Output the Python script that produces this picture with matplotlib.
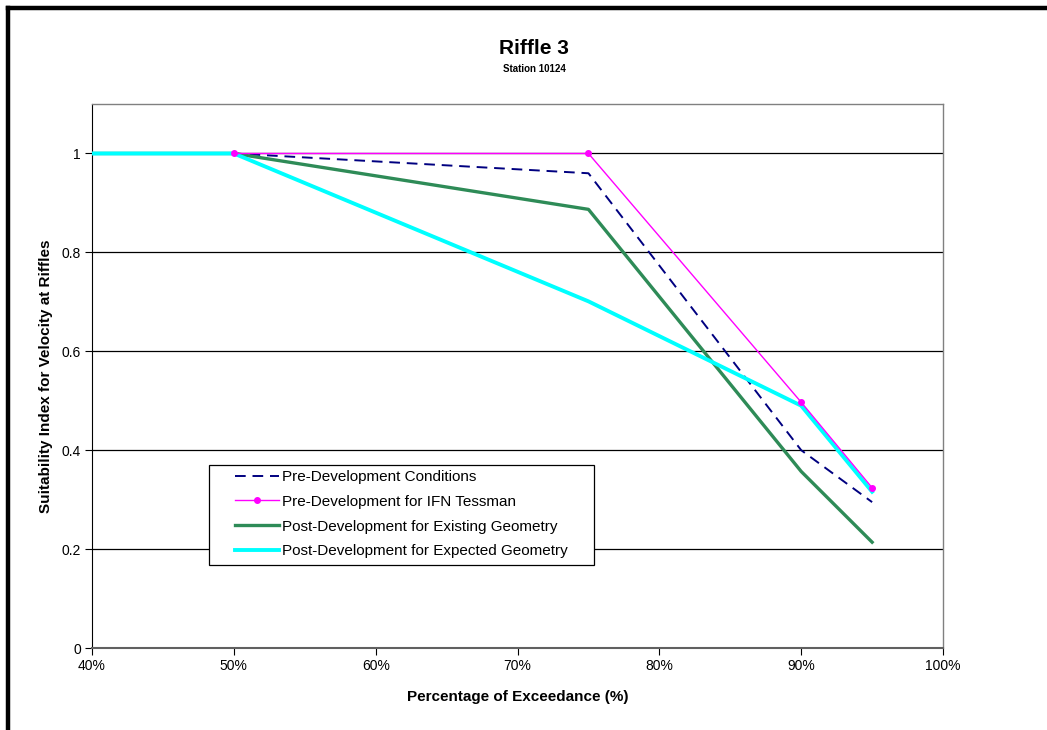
import matplotlib
matplotlib.use("Agg")
import matplotlib.pyplot as plt
from matplotlib.lines import Line2D
from matplotlib.patches import Rectangle
from matplotlib.ticker import FuncFormatter

plt.rcParams["font.family"] = ["Liberation Sans", "DejaVu Sans"]

# percentage of exceedance
x_all = [40, 50, 75, 90, 95]
x_ifn = [50, 75, 90, 95]

pre_dev = [1.0, 1.0, 0.96, 0.40, 0.295]
ifn_tessman = [1.0, 1.0, 0.497, 0.324]
post_existing = [1.0, 1.0, 0.887, 0.357, 0.214]
post_expected = [1.0, 1.0, 0.701, 0.490, 0.316]

fig = plt.figure(figsize=(10.47, 7.3), dpi=100)
ax = fig.add_axes([0.0879, 0.1123, 0.8128, 0.7452])

ax.plot(x_all, pre_dev, color="#000080", lw=1.4, ls=(0, (5.5, 3.5)),
        label="Pre-Development Conditions", zorder=3)
ax.plot(x_ifn, ifn_tessman, color="#FF00FF", lw=1.0, marker="o", ms=4,
        label="Pre-Development for IFN Tessman", zorder=6)
ax.plot(x_all, post_existing, color="#2E8B57", lw=2.4,
        label="Post-Development for Existing Geometry", zorder=4)
ax.plot(x_all, post_expected, color="#00FFFF", lw=2.8,
        label="Post-Development for Expected Geometry", zorder=5)

ax.set_xlim(40, 100)
ax.set_ylim(0, 1.1)
ax.set_xticks(range(40, 101, 10))
ax.set_yticks([0, 0.2, 0.4, 0.6, 0.8, 1.0])
ax.xaxis.set_major_formatter(FuncFormatter(lambda v, p: f"{v:.0f}%"))
ax.yaxis.set_major_formatter(FuncFormatter(lambda v, p: "0" if v == 0 else ("1" if v == 1 else f"{v:.1f}")))
ax.tick_params(axis="both", labelsize=10, direction="out", length=5, width=0.8, pad=3)
ax.yaxis.grid(True, color="black", lw=0.9)
ax.set_axisbelow(True)

for side in ("top", "right"):
    ax.spines[side].set_color("#808080")
    ax.spines[side].set_linewidth(1.0)
ax.spines["left"].set_color("black")
ax.spines["bottom"].set_color("#606060")
ax.spines["bottom"].set_linewidth(1.5)

ax.set_xlabel("Percentage of Exceedance (%)", fontsize=11, fontweight="bold", labelpad=12)
ax.set_ylabel("Suitability Index for Velocity at Riffles", fontsize=11, fontweight="bold", labelpad=6)

fig.text(0.510, 0.934, "Riffle 3", ha="center", va="center", fontsize=15, fontweight="bold")
fig.text(0.510, 0.905, "Station 10124", ha="center", va="center", fontsize=7, fontweight="bold")

leg = ax.legend(loc="upper left", bbox_to_anchor=(0.162, 0.336), fontsize=11,
                frameon=False, handlelength=2.9, handletextpad=0.2,
                labelspacing=0.7, borderpad=0.32, borderaxespad=0)
leg.set_zorder(10)

# legend box with wider side padding, like the original
fig.canvas.draw()
bb = leg.get_window_extent().transformed(ax.transAxes.inverted())
padx = 21 / (ax.get_window_extent().width)
pady = 2 / (ax.get_window_extent().height)
ax.add_patch(Rectangle((bb.x0 - padx, bb.y0 - pady), bb.width + 2 * padx, bb.height + pady,
                       transform=ax.transAxes, facecolor="white", edgecolor="black",
                       lw=0.9, zorder=9))

# outer chart frame (left and top edges visible)
fig.add_artist(Line2D([8 / 1047, 8 / 1047], [0, 1 - 8 / 730], color="black", lw=3.2,
                      transform=fig.transFigure, solid_capstyle="projecting"))
fig.add_artist(Line2D([8 / 1047, 1], [1 - 8 / 730, 1 - 8 / 730], color="black", lw=3.2,
                      transform=fig.transFigure, solid_capstyle="projecting"))

fig.savefig("out.png", dpi=100)
